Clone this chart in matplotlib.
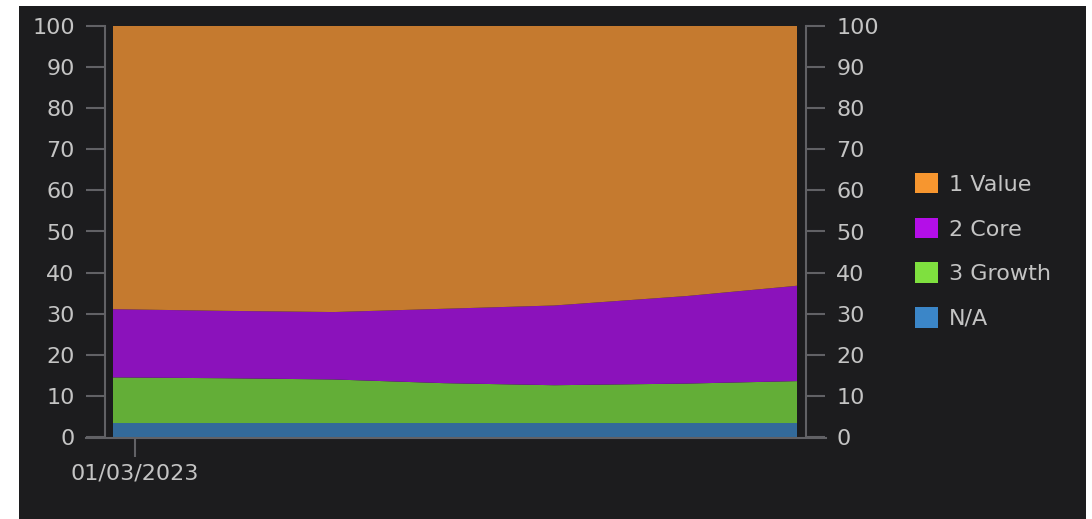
import datetime as dt
import matplotlib
matplotlib.use("Agg")
import matplotlib.pyplot as plt
import matplotlib.dates as mdates
from matplotlib.patches import Patch, Rectangle
from matplotlib.lines import Line2D

# Data (percent of holdings by style)
dates = [dt.date(2023, 2, 28) + dt.timedelta(days=d) for d in [0, 5, 10, 15, 20, 26, 31]]
na_vals = [3.4, 3.4, 3.4, 3.4, 3.4, 3.4, 3.4]
growth_vals = [11.1, 10.9, 10.6, 9.7, 9.2, 9.6, 10.2]
core_vals = [16.6, 16.4, 16.4, 18.1, 19.4, 21.3, 23.2]
value_vals = [68.9, 69.3, 69.6, 68.8, 68.0, 65.7, 63.2]

labels = ["N/A", "3 Growth", "2 Core", "1 Value"]
fill_colors = ["#336a9a", "#63ae37", "#8b12bb", "#c57a2f"]
legend_colors = ["#3b86c8", "#7fe03f", "#b40ee8", "#f7962f"]

BG = "#1c1c1e"
GRID = "#616165"
TXT = "#c4c4c4"

plt.rcParams["font.family"] = ["DejaVu Sans"]

fig = plt.figure(figsize=(10.92, 5.19), dpi=100, facecolor="white")
fig.add_artist(Rectangle((19 / 1092, 0), (1086 - 19) / 1092, 1 - 6 / 519,
                         transform=fig.transFigure, facecolor=BG, edgecolor="none", zorder=-10))

ax = fig.add_axes([113 / 1092, 1 - 437 / 519, (797 - 113) / 1092, (437 - 26) / 519])
ax.set_facecolor(BG)
ax.stackplot(dates, na_vals, growth_vals, core_vals, value_vals,
             colors=fill_colors, linewidth=0)

ax.set_xlim(dates[0], dates[-1])
ax.set_ylim(0, 100)
ax.set_yticks(range(0, 101, 10))
ax.set_xticks([mdates.date2num(dt.date(2023, 3, 1))])
ax.set_xticklabels(["01/03/2023"])

for s in ["top", "bottom"]:
    ax.spines[s].set_visible(False)
ax.spines["left"].set_position(("outward", 5.8))
ax.spines["right"].set_position(("outward", 6.5))
for s in ["left", "right"]:
    ax.spines[s].set_color(GRID)
    ax.spines[s].set_linewidth(1.5)

ax.tick_params(axis="y", which="both", left=True, right=True, labelleft=True, labelright=True,
               direction="out", length=13.7, width=1.5, color=GRID, pad=8,
               labelsize=16, labelcolor=TXT)
ax.tick_params(axis="x", direction="out", length=14.4, width=1.5, color=GRID, pad=5,
               labelsize=16, labelcolor=TXT)

# baseline running under both axes
fig.add_artist(Line2D([86 / 1092, 826 / 1092], [1 - 438 / 519, 1 - 438 / 519],
                      transform=fig.transFigure, color=GRID, linewidth=1.5))

handles = [Patch(facecolor=c, edgecolor="none") for c in legend_colors[::-1]]
fig.legend(handles, labels[::-1], loc="center left", bbox_to_anchor=(915 / 1092, 1 - 251 / 519),
           frameon=False, fontsize=16, labelcolor=TXT, handlelength=1.04, handleheight=1.04,
           handletextpad=0.5, labelspacing=1.03, borderpad=0, borderaxespad=0)

fig.savefig("out.png", dpi=100, facecolor=fig.get_facecolor())
